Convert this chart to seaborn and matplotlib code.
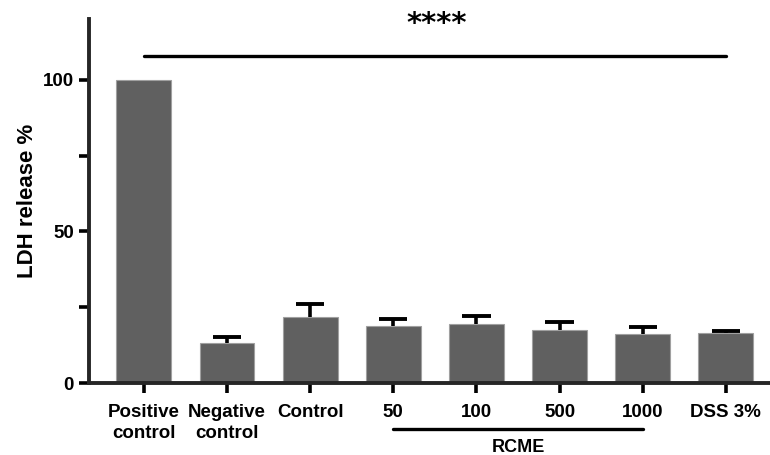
import numpy as np
import pandas as pd
import matplotlib
matplotlib.use("Agg")
import matplotlib.pyplot as plt
import seaborn as sns

# data
groups = ["Positive\ncontrol", "Negative\ncontrol", "Control", "50", "100", "500", "1000", "DSS 3%"]
ldh_mean = [100.0, 13.2, 21.9, 18.8, 19.5, 17.4, 16.1, 16.6]
ldh_err = [0.0, 2.0, 4.2, 2.5, 2.7, 2.6, 2.4, 0.7]
rcme_groups = ["50", "1000"]
sig_label = "****"

df = pd.DataFrame({"group": groups, "ldh": ldh_mean})

sns.set_style("ticks")
plt.rcParams["font.family"] = ["Liberation Sans", "DejaVu Sans"]
plt.rcParams["font.weight"] = "bold"
plt.rcParams["text.color"] = "black"
plt.rcParams["axes.labelcolor"] = "black"
plt.rcParams["xtick.color"] = "black"
plt.rcParams["ytick.color"] = "black"

fig = plt.figure(figsize=(7.7, 4.55), dpi=100)
ax = fig.add_axes([0.1156, 0.158, 0.8844, 0.8])

sns.barplot(data=df, x="group", y="ldh", color="#606060", width=0.66,
            edgecolor="#a0a0a0", linewidth=0.8, saturation=1, ax=ax)

# upper-only error bars (skip groups with no error)
xpos = np.arange(len(groups))
has_err = np.array(ldh_err) > 0
top = np.array(ldh_mean)[has_err] + np.array(ldh_err)[has_err]
ax.vlines(xpos[has_err], np.array(ldh_mean)[has_err], top, color="black", lw=2.6, zorder=3)
ax.hlines(top, xpos[has_err] - 0.17, xpos[has_err] + 0.17, color="black", lw=2.8, zorder=3)

ax.set_xlim(-0.66, 7.53)
ax.set_ylim(0, 120)
ax.set_yticks([0, 50, 100])
ax.set_yticks([25, 75], minor=True)
ax.set_xlabel("")
ax.set_ylabel("LDH release %", fontsize=16, fontweight="bold", labelpad=3)
ax.tick_params(axis="both", which="major", width=2.6, length=7, labelsize=13.5, pad=8)
ax.tick_params(axis="y", which="minor", width=2.6, length=7)
ax.tick_params(axis="y", which="major", pad=4)
for lab in ax.get_xticklabels() + ax.get_yticklabels():
    lab.set_fontweight("bold")
for lab in ax.get_xticklabels():
    lab.set_linespacing(1.3)

sns.despine(ax=ax)
ax.spines["left"].set_linewidth(2.8)
ax.spines["bottom"].set_linewidth(2.8)

# significance bar across all groups
ax.plot([0, len(groups) - 1], [108, 108], color="black", lw=2.4, clip_on=False)
ax.text(3.52, 118.4, sig_label, ha="center", va="center", fontsize=21,
        fontweight="bold", family=["DejaVu Sans"])

# RCME bracket under the dose labels
i0, i1 = groups.index(rcme_groups[0]), groups.index(rcme_groups[1])
trans = ax.get_xaxis_transform()
ax.plot([i0, i1], [-0.126, -0.126], color="black", lw=2.4, transform=trans, clip_on=False)
ax.text((i0 + i1) / 2, -0.19, "RCME", ha="center", va="baseline", fontsize=13,
        fontweight="bold", transform=trans)

fig.savefig("out.png", dpi=100)
